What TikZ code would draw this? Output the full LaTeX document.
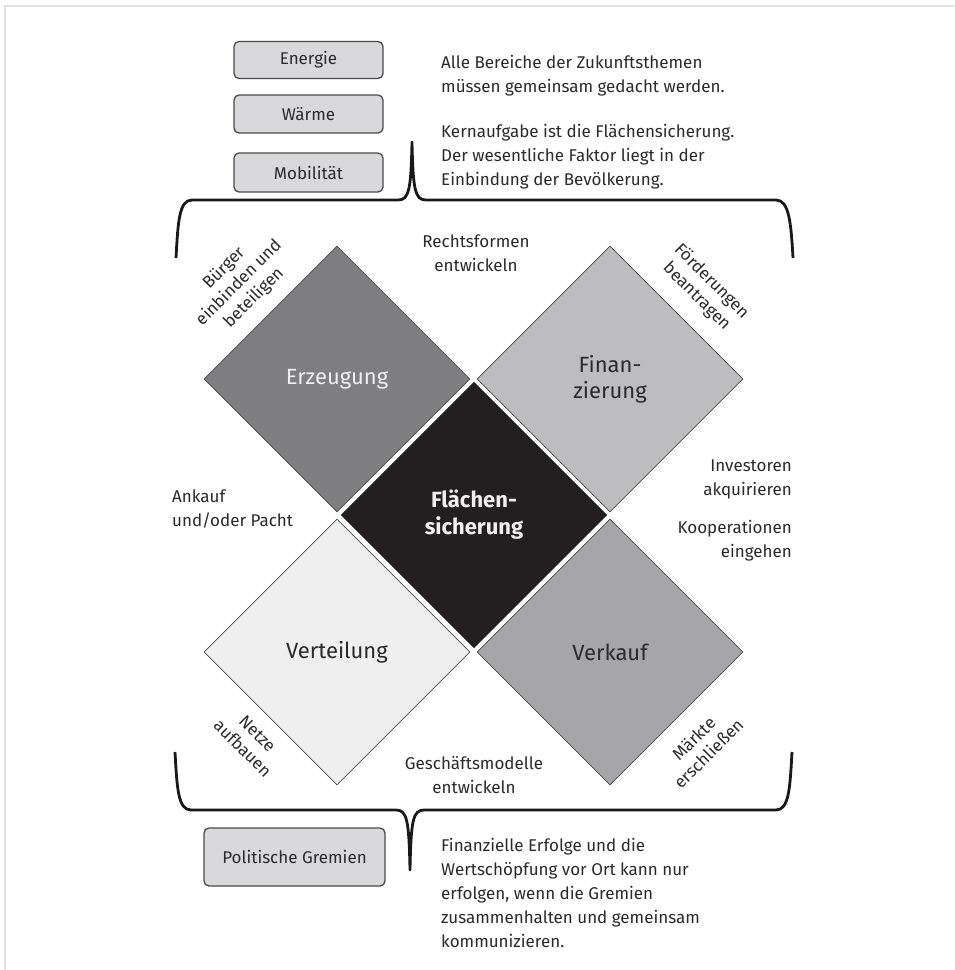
\documentclass[tikz,border=0pt]{standalone}
\usepackage{fontspec}
\setmainfont{Fira Sans}
\usetikzlibrary{shapes.geometric}
\definecolor{ink}{HTML}{2A2A2A}
\definecolor{cErz}{HTML}{7F7F81}
\definecolor{cFin}{HTML}{BDBDBF}
\definecolor{cVert}{HTML}{EFEFEF}
\definecolor{cVerk}{HTML}{A6A6A8}
\definecolor{cMid}{HTML}{231F20}
\definecolor{cEdge}{HTML}{4A4A4A}
\definecolor{cBox}{HTML}{D9D9DB}
\definecolor{cFrame}{HTML}{E2E2E2}
\begin{document}
\begin{tikzpicture}[x=1pt,y=-1pt,
  body/.style={text=ink,inner sep=0pt,font=\fontsize{17}{24}\selectfont},
  tbox/.style={draw=cEdge,fill=cBox,rounded corners=5pt,line width=1.3pt,text=ink,
    inner sep=0pt,font=\fontsize{17}{24}\selectfont},
  dia/.style={diamond,aspect=1,minimum size=266pt,inner sep=0pt,
    font=\fontsize{22}{26}\selectfont,align=center},
  brace/.style={line width=2.8pt,draw=black!90,line join=round},
  frame/.style={draw=cFrame,line width=2pt}]
\useasboundingbox (0,0) rectangle (954,970);
\fill[white] (0,0) rectangle (954,970);
\draw[frame] (5,970) -- (5,6) -- (954,6);

% boxes
\node[tbox,minimum width=149pt,minimum height=37pt] (energie) at (308.5,60) {Energie};
\node[tbox,minimum width=149pt,minimum height=38pt] (waerme) at (308.5,114) {Wärme};
\node[tbox,minimum width=149pt,minimum height=39pt] (mob) at (308.5,172.5) {Mobilität};
\node[tbox,minimum width=181pt,minimum height=58pt] (gremien) at (294.5,857) {Politische Gremien};

% top text
\node[body,anchor=north west,align=left] (toptext) at (441,55)
  {Alle Bereiche der Zukunftsthemen\\müssen gemeinsam gedacht werden.\\[21pt]Kernaufgabe ist die Flächensicherung.\\Der wesentliche Faktor liegt in der\\Einbindung der Bevölkerung.};

% bottom text
\node[body,anchor=north west,align=left] (bottext) at (441,838)
  {Finanzielle Erfolge und die\\Wertschöpfung vor Ort kann nur\\erfolgen, wenn die Gremien\\zusammenhalten und gemeinsam\\kommunizieren.};

% braces
\draw[brace] (176,258) .. controls (178,222) and (179,200) .. (192,200) -- (398,200)
  .. controls (409,200) and (411,190) .. (412,142)
  .. controls (413,190) and (415,200) .. (426,200) -- (776,200)
  .. controls (789,200) and (791,222) .. (793,258);
\draw[brace] (175,752) .. controls (177,788) and (178,810) .. (191,810) -- (396,810)
  .. controls (407,810) and (409,820) .. (410,870)
  .. controls (411,820) and (413,810) .. (424,810) -- (776,810)
  .. controls (789,810) and (790,788) .. (792,752);

% diamonds
\node[dia,fill=cErz,draw=cEdge,line width=0.8pt,text=white!94!black] (erz) at (337,379) {Erzeugung};
\node[dia,fill=cFin,draw=cEdge,line width=0.8pt,text=ink] (fin) at (610,379) {Finan-\\zierung};
\node[dia,fill=cVert,draw=cEdge,line width=0.8pt,text=ink] (vert) at (337,652) {Verteilung};
\node[dia,fill=cVerk,draw=cEdge,line width=0.8pt,text=ink] (verk) at (610,652) {Verkauf};
\node[dia,fill=cMid,draw=white,line width=1.2pt,minimum size=269pt,text=white!94!black,
  font=\fontsize{22}{27}\selectfont\bfseries] (mid) at (474,515) {Flächen-\\sicherung};

% labels
\node[body,align=center] (recht) at (476,253) {Rechtsformen\\entwickeln};
\node[body,align=center] (gesch) at (474,775) {Geschäftsmodelle\\entwickeln};
\node[body,align=left,anchor=west] (ankauf) at (172,509) {Ankauf\\und/oder Pacht};
\node[body,align=right,anchor=east] (invest) at (792,479) {Investoren\\akquirieren};
\node[body,align=right,anchor=east] (koop) at (792,541) {Kooperationen\\eingehen};
\node[body,align=center,rotate=45,font=\fontsize{17}{21}\selectfont] (buerger) at (239,283) {Bürger\\einbinden und\\beteiligen};
\node[body,align=center,rotate=-45,font=\fontsize{17}{21}\selectfont] (foerder) at (704,289) {Förderungen\\beantragen};
\node[body,align=center,rotate=-45,font=\fontsize{17}{21}\selectfont] (netze) at (250,741) {Netze\\aufbauen};
\node[body,align=center,rotate=45,font=\fontsize{17}{21}\selectfont] (maerkte) at (701,746) {Märkte\\erschließen};
\end{tikzpicture}
\end{document}
